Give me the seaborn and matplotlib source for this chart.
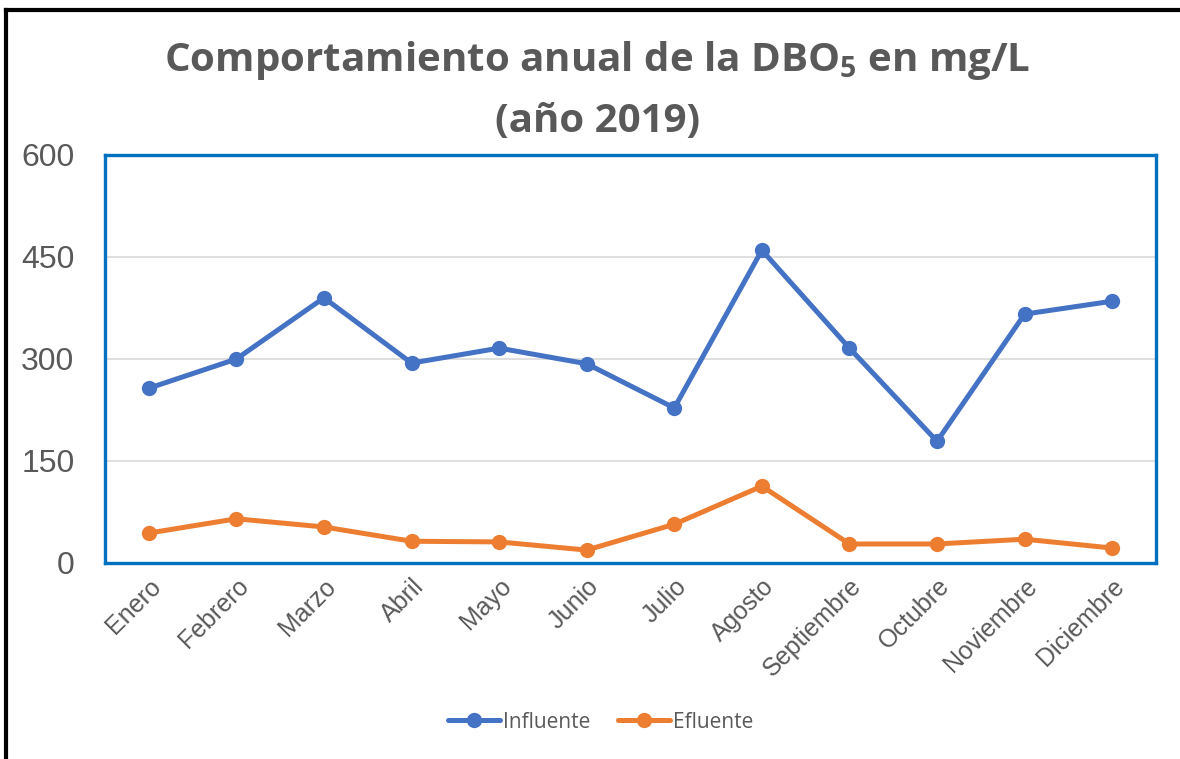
import matplotlib
matplotlib.use("Agg")
import matplotlib.pyplot as plt
from matplotlib.lines import Line2D
import seaborn as sns
import pandas as pd

meses = ["Enero", "Febrero", "Marzo", "Abril", "Mayo", "Junio", "Julio",
         "Agosto", "Septiembre", "Octubre", "Noviembre", "Diciembre"]
influente = [257, 300, 390, 294, 316, 293, 228, 460, 316, 179, 366, 385]
efluente = [44, 65, 53, 32, 31, 19, 57, 113, 28, 28, 35, 22]
series = ["Influente", "Efluente"]
colores = ["#4472C4", "#ED7D31"]
yticks = [0, 150, 300, 450, 600]

df = pd.DataFrame({
    "Mes": meses * 2,
    "DBO": influente + efluente,
    "Serie": [series[0]] * len(meses) + [series[1]] * len(meses),
})

sns.set_theme(style="white")
plt.rcParams["font.family"] = ["Liberation Sans", "DejaVu Sans"]
plt.rcParams["mathtext.fontset"] = "custom"
plt.rcParams["mathtext.rm"] = "Open Sans:bold"
plt.rcParams["mathtext.bf"] = "Open Sans:bold"
plt.rcParams["mathtext.it"] = "Open Sans:bold"

fig = plt.figure(figsize=(11.8, 7.59), dpi=100)
ax = fig.add_axes([105 / 1180, 1 - 563 / 759, (1156 - 105) / 1180, (563 - 155) / 759])

sns.lineplot(data=df, x="Mes", y="DBO", hue="Serie", palette=colores,
             marker="o", markersize=11, markeredgewidth=0, linewidth=3.6,
             sort=False, ax=ax)

ax.set_xlim(-0.5, len(meses) - 0.5)
ax.set_ylim(0, 600)
ax.set_yticks(yticks)
ax.set_yticklabels([str(v) for v in yticks])
ax.set_xlabel("")
ax.set_ylabel("")
ax.yaxis.grid(True, color="#D9D9D9", linewidth=1.2)
ax.xaxis.grid(False)
ax.set_axisbelow(True)
for s in ax.spines.values():
    s.set_color("#0070C0")
    s.set_linewidth(2.4)
    s.set_visible(True)

ax.tick_params(axis="y", labelsize=23, labelcolor="#595959", length=0, pad=22)
ax.tick_params(axis="x", labelsize=18, labelcolor="#595959", length=0, pad=8)
for lab in ax.get_xticklabels():
    lab.set_rotation(45)
    lab.set_ha("right")
    lab.set_rotation_mode("anchor")

handles, labels = ax.get_legend_handles_labels()
ax.legend(handles, labels, loc="center", bbox_to_anchor=(0.509, 1 - 722 / 759),
          bbox_transform=fig.transFigure, ncol=2, frameon=False,
          handlelength=2.5, columnspacing=1.3, handletextpad=0.15,
          prop={"family": "Open Sans", "size": 15}, labelcolor="#595959")

fig.text(0.506, 1 - 61 / 759, r"Comportamiento anual de la DBO$_{5}$ en mg/L",
         ha="center", va="center", fontsize=29, fontweight="bold",
         family="Open Sans", color="#595959")
fig.text(0.506, 1 - 121 / 759, "(año 2019)",
         ha="center", va="center", fontsize=29, fontweight="bold",
         family="Open Sans", color="#595959")

# outer frame: only left and top edges are visible in the reference
fig.add_artist(Line2D([6 / 1180, 6 / 1180], [0, 1 - 10 / 759],
                      transform=fig.transFigure, color="black", linewidth=3,
                      solid_capstyle="projecting"))
fig.add_artist(Line2D([6 / 1180, 1], [1 - 10 / 759, 1 - 10 / 759],
                      transform=fig.transFigure, color="black", linewidth=3,
                      solid_capstyle="projecting"))

fig.savefig("out.png", dpi=100)
